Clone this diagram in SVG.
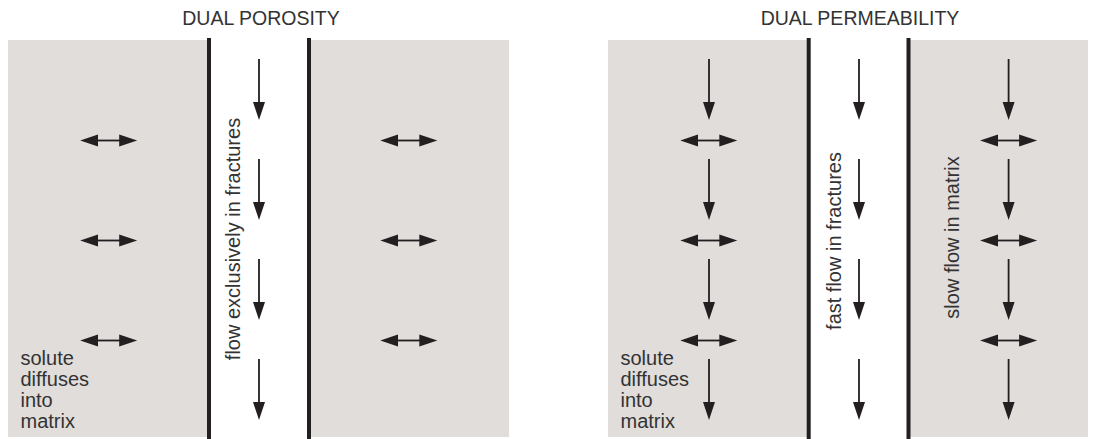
<svg xmlns="http://www.w3.org/2000/svg" width="1098" height="439" viewBox="0 0 1098 439">
  <style>
    .matrix { fill: #e1dddb; }
    .frac { stroke: #231f20; stroke-width: 4; fill: none; }
    .arr { stroke: #231f20; stroke-width: 1.8; fill: none; }
    .down { marker-end: url(#head); }
    .dbl { marker-start: url(#headS); marker-end: url(#head); }
    text { font-family: "Liberation Sans", Arial, Helvetica, sans-serif; fill: #333; }
    .title { font-size: 19.5px; text-anchor: middle; }
    .lbl { font-size: 20px; }
    .rot { font-size: 20px; text-anchor: middle; }
  </style>
  <defs>
    <marker id="head" markerUnits="userSpaceOnUse" markerWidth="20" markerHeight="14" viewBox="0 -7 20 14" refX="1" refY="0" orient="auto">
      <path d="M0,-6 L18,0 L0,6 z" fill="#231f20"/>
    </marker>
    <marker id="headS" markerUnits="userSpaceOnUse" markerWidth="20" markerHeight="14" viewBox="0 -7 20 14" refX="1" refY="0" orient="auto-start-reverse">
      <path d="M0,-6 L18,0 L0,6 z" fill="#231f20"/>
    </marker>
  </defs>

  <g id="dual-porosity">
    <text class="title" x="261" y="25">DUAL POROSITY</text>
    <rect class="matrix" x="8" y="40" width="201" height="397"/>
    <rect class="matrix" x="309" y="40" width="200" height="397"/>
    <line class="frac" x1="209" y1="38" x2="209" y2="439"/>
    <line class="frac" x1="309" y1="38" x2="309" y2="439"/>
    <text class="rot" transform="translate(240,239) rotate(-90)">flow exclusively in fractures</text>
    <text class="lbl" x="20.5" y="365">solute</text>
    <text class="lbl" x="20.5" y="386">diffuses</text>
    <text class="lbl" x="20.5" y="407">into</text>
    <text class="lbl" x="20.5" y="428">matrix</text>
  </g>

  <g id="dual-permeability">
    <text class="title" x="860" y="25">DUAL PERMEABILITY</text>
    <rect class="matrix" x="608" y="40" width="200.7" height="397"/>
    <rect class="matrix" x="908.5" y="40" width="179.5" height="397"/>
    <line class="frac" x1="808.7" y1="38" x2="808.7" y2="439"/>
    <line class="frac" x1="908.5" y1="38" x2="908.5" y2="439"/>
    <text class="rot" transform="translate(840.7,241) rotate(-90)">fast flow in fractures</text>
    <text class="rot" transform="translate(959.3,237.5) rotate(-90)">slow flow in matrix</text>
    <text class="lbl" x="620.5" y="365">solute</text>
    <text class="lbl" x="620.5" y="386">diffuses</text>
    <text class="lbl" x="620.5" y="407">into</text>
    <text class="lbl" x="620.5" y="428">matrix</text>
  </g>

  <g id="connectors">
    <!-- dual porosity: fracture flow -->
    <line class="arr down" x1="259" y1="59" x2="259" y2="103"/>
    <line class="arr down" x1="259" y1="159" x2="259" y2="203"/>
    <line class="arr down" x1="259" y1="259" x2="259" y2="303"/>
    <line class="arr down" x1="259" y1="359" x2="259" y2="403"/>
    <!-- dual porosity: diffusion -->
    <line class="arr dbl" x1="97.2" y1="140.5" x2="120.2" y2="140.5"/>
    <line class="arr dbl" x1="97.2" y1="240.5" x2="120.2" y2="240.5"/>
    <line class="arr dbl" x1="97.2" y1="340.5" x2="120.2" y2="340.5"/>
    <line class="arr dbl" x1="397.3" y1="140.5" x2="420.3" y2="140.5"/>
    <line class="arr dbl" x1="397.3" y1="240.5" x2="420.3" y2="240.5"/>
    <line class="arr dbl" x1="397.3" y1="340.5" x2="420.3" y2="340.5"/>

    <!-- dual permeability: matrix flow left -->
    <line class="arr down" x1="709" y1="59" x2="709" y2="103"/>
    <line class="arr down" x1="709" y1="159" x2="709" y2="203"/>
    <line class="arr down" x1="709" y1="259" x2="709" y2="303"/>
    <line class="arr down" x1="709" y1="359" x2="709" y2="403"/>
    <!-- fracture flow -->
    <line class="arr down" x1="859" y1="59" x2="859" y2="103"/>
    <line class="arr down" x1="859" y1="159" x2="859" y2="203"/>
    <line class="arr down" x1="859" y1="259" x2="859" y2="303"/>
    <line class="arr down" x1="859" y1="359" x2="859" y2="403"/>
    <!-- matrix flow right -->
    <line class="arr down" x1="1008.6" y1="59" x2="1008.6" y2="103"/>
    <line class="arr down" x1="1008.6" y1="159" x2="1008.6" y2="203"/>
    <line class="arr down" x1="1008.6" y1="259" x2="1008.6" y2="303"/>
    <line class="arr down" x1="1008.6" y1="359" x2="1008.6" y2="403"/>
    <!-- diffusion -->
    <line class="arr dbl" x1="697.3" y1="140.5" x2="720.3" y2="140.5"/>
    <line class="arr dbl" x1="697.3" y1="240.5" x2="720.3" y2="240.5"/>
    <line class="arr dbl" x1="697.3" y1="340.5" x2="720.3" y2="340.5"/>
    <line class="arr dbl" x1="997.1" y1="140.5" x2="1020.1" y2="140.5"/>
    <line class="arr dbl" x1="997.1" y1="240.5" x2="1020.1" y2="240.5"/>
    <line class="arr dbl" x1="997.1" y1="340.5" x2="1020.1" y2="340.5"/>
  </g>
</svg>
